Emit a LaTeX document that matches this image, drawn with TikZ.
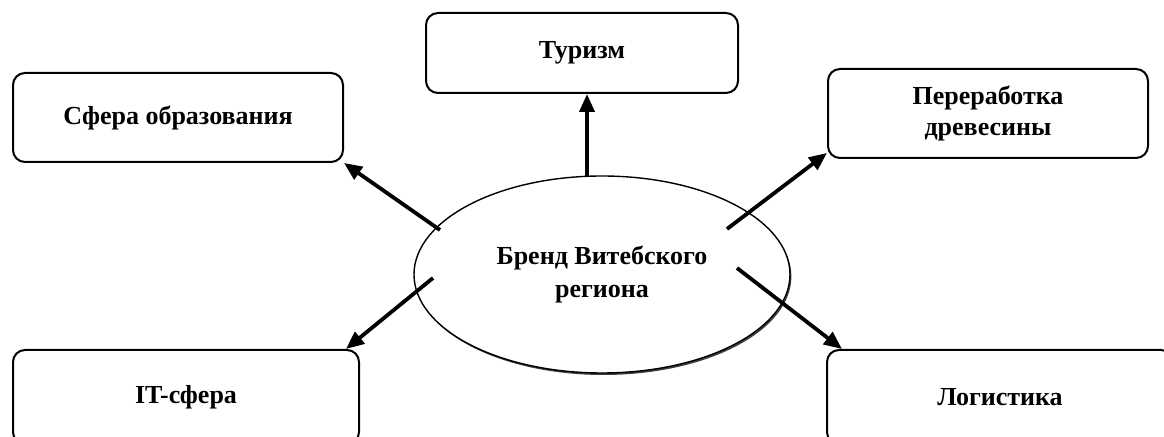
\documentclass[tikz,border=0pt]{standalone}
\usepackage{fontspec}
\setmainfont{Liberation Serif}
\usetikzlibrary{positioning, shapes.geometric, shadows, arrows.meta}
\tikzstyle{diagram} = [x = 0.5pt, y = -0.5pt]
\newcommand{\sectorFont}{\bfseries\fontsize{13}{15.5}\selectfont}
\newcommand{\brandFont}{\bfseries\fontsize{13}{16.5}\selectfont}
\tikzstyle{sectorBox} = [draw, line width = 1pt, rounded corners = 6pt, align = center, inner sep = 0pt, font = \sectorFont]
\tikzstyle{brandStyle} = [ellipse, draw, line width = 0.7pt, fill = white, inner sep = 0pt, minimum width = 188pt, minimum height = 98.5pt, align = center, font = \brandFont, drop shadow = {shadow xshift = 0.7pt, shadow yshift = -1pt, fill = black, opacity = 0.75}]
\tikzstyle{brandArrow} = [line width = 1.9pt, -{Triangle[length = 9pt, width = 7.5pt]}]

\begin{document}
\begin{tikzpicture}[diagram]
  \useasboundingbox (0,0) rectangle (1164,437);
  \node [sectorBox, minimum width = 156pt, minimum height = 40pt] (tourism) at (582,53) {Туризм};
  \node [sectorBox, minimum width = 165pt, minimum height = 44.5pt] (education) at (178,117.5) {Сфера образования};
  \node [sectorBox, minimum width = 160pt, minimum height = 44.5pt] (wood) at (988,113.5) {Переработка\\древесины};
  \node [sectorBox, minimum width = 173pt, minimum height = 47pt] (itSphere) at (186,397) {IT-сфера};
  \node [sectorBox, minimum width = 173pt, minimum height = 47pt] (logistics) at (1000,397) {Логистика};
  \node [brandStyle] (brand) at (602,274.5) {Бренд Витебского\\региона};

  \coordinate (tailTourism) at (587,177);
  \coordinate (tailEducation) at (440,230);
  \coordinate (tailWood) at (727,229);
  \coordinate (tailIt) at (433,278);
  \coordinate (tailLogistics) at (737,268);

  \draw [brandArrow] (tailTourism) -- (tailTourism |- tourism.south);
  \draw [brandArrow] (tailEducation) -- (education.south east);
  \draw [brandArrow] (tailWood) -- ([yshift = 3pt]wood.south west);
  \draw [brandArrow] (tailIt) -- ([xshift = -7pt]itSphere.north east);
  \draw [brandArrow] (tailLogistics) -- ([xshift = 8pt]logistics.north west);
\end{tikzpicture}
\end{document}
